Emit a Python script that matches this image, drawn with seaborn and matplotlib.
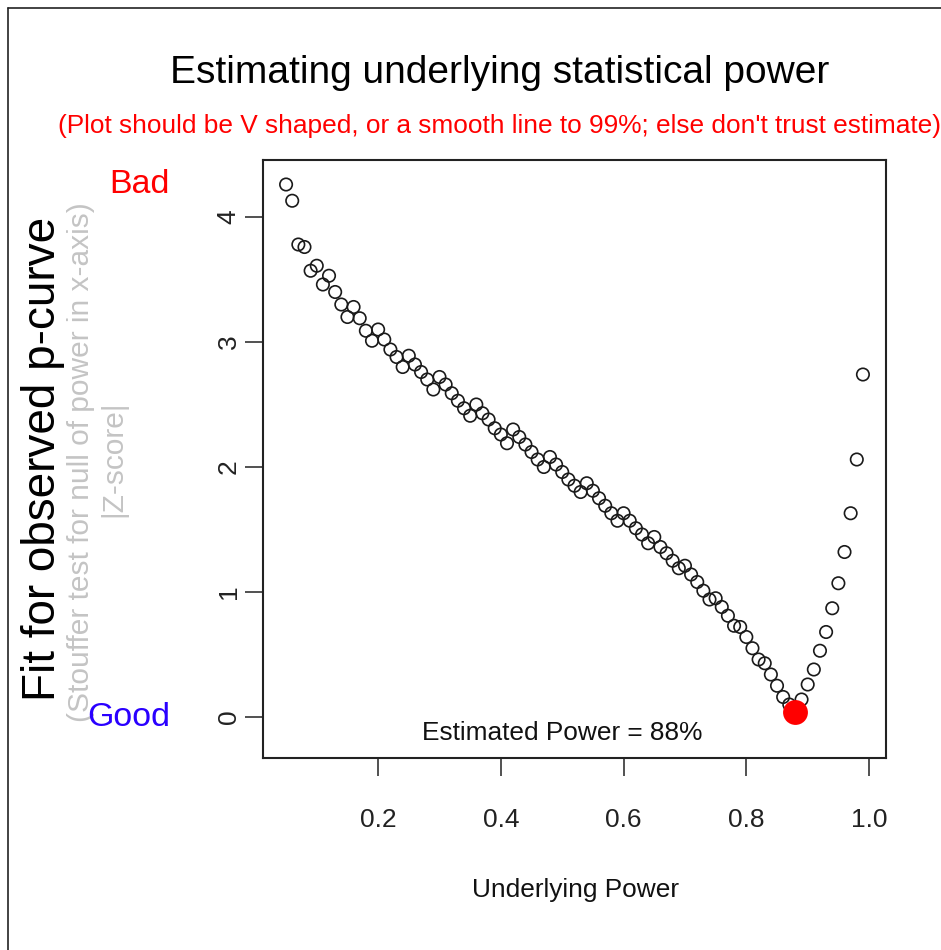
import numpy as np
import pandas as pd
import matplotlib
matplotlib.use("Agg")
import matplotlib.pyplot as plt
from matplotlib.lines import Line2D
import seaborn as sns

# Underlying power grid and the fit (|Z|) of the observed p-curve at each value
power = [0.05, 0.06, 0.07, 0.08, 0.09, 0.10, 0.11, 0.12, 0.13, 0.14,
         0.15, 0.16, 0.17, 0.18, 0.19, 0.20, 0.21, 0.22, 0.23, 0.24,
         0.25, 0.26, 0.27, 0.28, 0.29, 0.30, 0.31, 0.32, 0.33, 0.34,
         0.35, 0.36, 0.37, 0.38, 0.39, 0.40, 0.41, 0.42, 0.43, 0.44,
         0.45, 0.46, 0.47, 0.48, 0.49, 0.50, 0.51, 0.52, 0.53, 0.54,
         0.55, 0.56, 0.57, 0.58, 0.59, 0.60, 0.61, 0.62, 0.63, 0.64,
         0.65, 0.66, 0.67, 0.68, 0.69, 0.70, 0.71, 0.72, 0.73, 0.74,
         0.75, 0.76, 0.77, 0.78, 0.79, 0.80, 0.81, 0.82, 0.83, 0.84,
         0.85, 0.86, 0.87, 0.88, 0.89, 0.90, 0.91, 0.92, 0.93, 0.94,
         0.95, 0.96, 0.97, 0.98, 0.99]
fit_z = [4.26, 4.13, 3.78, 3.76, 3.57, 3.61, 3.46, 3.53, 3.40, 3.30,
         3.20, 3.28, 3.19, 3.09, 3.01, 3.10, 3.02, 2.94, 2.88, 2.80,
         2.89, 2.82, 2.76, 2.70, 2.62, 2.72, 2.66, 2.59, 2.53, 2.47,
         2.41, 2.50, 2.43, 2.38, 2.31, 2.26, 2.19, 2.30, 2.24, 2.18,
         2.12, 2.06, 2.00, 2.08, 2.02, 1.96, 1.90, 1.85, 1.80, 1.87,
         1.81, 1.75, 1.69, 1.63, 1.57, 1.63, 1.57, 1.51, 1.46, 1.39,
         1.44, 1.36, 1.31, 1.25, 1.19, 1.21, 1.14, 1.08, 1.01, 0.94,
         0.95, 0.88, 0.81, 0.73, 0.72, 0.64, 0.55, 0.46, 0.43, 0.34,
         0.25, 0.16, 0.10, 0.04, 0.14, 0.26, 0.38, 0.53, 0.68, 0.87,
         1.07, 1.32, 1.63, 2.06, 2.74]
x_ticks = [0.2, 0.4, 0.6, 0.8, 1.0]
x_tick_labels = ["0.2", "0.4", "0.6", "0.8", "1.0"]
y_ticks = [0, 1, 2, 3, 4]
y_tick_labels = ["0", "1", "2", "3", "4"]

df = pd.DataFrame({"power": power, "fit": fit_z})
best = df.loc[[df["fit"].idxmin()]]
est_pct = int(round(best["power"].iloc[0] * 100))

sns.set_style("white", {"xtick.bottom": True, "ytick.left": True})
plt.rcParams["font.family"] = ["Liberation Sans", "DejaVu Sans"]

W, H = 941, 950
fig = plt.figure(figsize=(W / 100, H / 100), dpi=100)
fig.patch.set_facecolor("white")

def fx(px):
    return px / W

def fy(py):
    return 1 - py / H

left, right, top, bottom = 263, 886, 160, 758
ax = fig.add_axes([fx(left), fy(bottom), (right - left) / W, (bottom - top) / H])

sns.scatterplot(data=df, x="power", y="fit", ax=ax, marker="o", s=80,
                facecolor="none", edgecolor="#1a1a1a", linewidth=1.2,
                legend=False, zorder=3)
sns.scatterplot(data=best, x="power", y="fit", ax=ax, marker="o", s=320,
                color="#ff0000", edgecolor="#ff0000", linewidth=0,
                legend=False, zorder=4)

ax.set_xlim(0.0124, 1.0276)
ax.set_ylim(-0.328, 4.456)
ax.set_xticks(x_ticks)
ax.set_xticklabels(x_tick_labels)
ax.set_yticks(y_ticks)
ax.set_yticklabels(y_tick_labels, rotation=90, va="center")
ax.set_xlabel("")
ax.set_ylabel("")
for sp in ax.spines.values():
    sp.set_visible(True)
    sp.set_color("#222222")
    sp.set_linewidth(1.5)
ax.tick_params(axis="both", which="major", direction="out", length=13,
               width=1.2, color="#333333", labelsize=19, labelcolor="#222222",
               left=True, bottom=True)
ax.tick_params(axis="x", pad=23)
ax.tick_params(axis="y", pad=3)

ax.text(0.5, -0.128, f"Estimated Power = {est_pct}%", ha="center", va="center",
        fontsize=18.9, color="#111111")

# Titles
fig.text(fx(500), fy(73), "Estimating underlying statistical power",
         ha="center", va="center", fontsize=28, color="black")
fig.text(fx(499), fy(126),
         "(Plot should be V shaped, or a smooth line to 99%; else don't trust estimate)",
         ha="center", va="center", fontsize=18.9, color="#ff0000")

# Axis labels
fig.text(fx(576), fy(890), "Underlying Power", ha="center", va="center",
         fontsize=18.9, color="#111111")
fig.text(fx(43), fy(459), "Fit for observed p-curve", ha="center", va="center",
         rotation=90, fontsize=33, color="black")
fig.text(fx(81), fy(462), "(Stouffer test for null of power in x-axis)",
         ha="center", va="center", rotation=90, fontsize=21.5, color="#c4c4c4")
fig.text(fx(113), fy(459), "|Z-score|", ha="center", va="center",
         rotation=90, fontsize=21.5, color="#c4c4c4")
fig.text(fx(170), fy(185), "Bad", ha="right", va="center",
         fontsize=24.5, color="#ff0000")
fig.text(fx(170), fy(718), "Good", ha="right", va="center",
         fontsize=24.5, color="#2a00ff")

# Frame lines along the top and left edges of the figure
fig.add_artist(Line2D([fx(8), fx(8)], [fy(8), 0], transform=fig.transFigure,
                      color="#222222", linewidth=1.2))
fig.add_artist(Line2D([fx(8), 1], [fy(8), fy(8)], transform=fig.transFigure,
                      color="#222222", linewidth=1.2))

fig.savefig("out.png", dpi=100)
